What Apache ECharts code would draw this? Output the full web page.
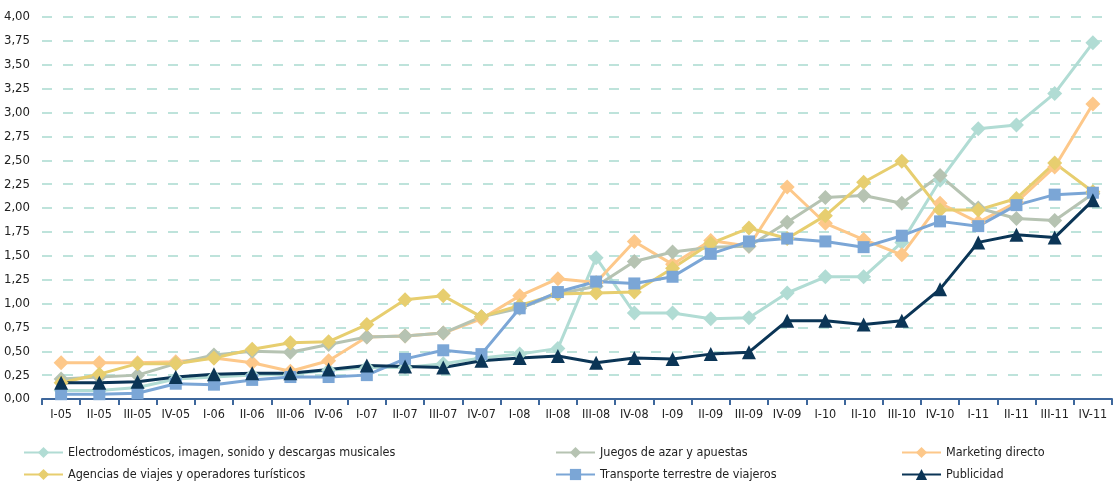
<!DOCTYPE html>
<html>
<head>
<meta charset="utf-8">
<script src="https://cdn.jsdelivr.net/npm/echarts@6/dist/echarts.min.js"></script>
<style>
html,body{margin:0;padding:0;background:#fff;}
#chart{width:1113px;height:486px;}
</style>
</head>
<body>
<div id="chart"></div>
<script>
const categories = ['I-05','II-05','III-05','IV-05','I-06','II-06','III-06','IV-06','I-07','II-07','III-07','IV-07','I-08','II-08','III-08','IV-08','I-09','II-09','III-09','IV-09','I-10','II-10','III-10','IV-10','I-11','II-11','III-11','IV-11'];

const electrodomesticos = [0.09,0.09,0.12,0.21,0.23,0.25,0.26,0.30,0.33,0.33,0.37,0.43,0.47,0.53,1.48,0.90,0.90,0.84,0.85,1.11,1.28,1.28,1.64,2.29,2.83,2.87,3.20,3.73];
const juegos = [0.21,0.23,0.25,0.37,0.46,0.50,0.49,0.57,0.65,0.66,0.69,0.86,0.95,1.10,1.18,1.44,1.54,1.59,1.60,1.85,2.11,2.13,2.05,2.34,2.00,1.89,1.87,2.15];
const marketing = [0.38,0.38,0.38,0.39,0.43,0.38,0.29,0.40,0.65,0.66,0.69,0.84,1.08,1.26,1.22,1.65,1.41,1.66,1.60,2.22,1.84,1.67,1.51,2.05,1.85,2.06,2.43,3.09];
const agencias = [0.17,0.26,0.37,0.37,0.43,0.52,0.59,0.60,0.78,1.04,1.08,0.86,0.98,1.10,1.11,1.12,1.37,1.63,1.79,1.68,1.92,2.27,2.49,1.98,1.98,2.10,2.47,2.17];
const transporte = [0.05,0.05,0.06,0.16,0.15,0.20,0.23,0.23,0.25,0.42,0.51,0.47,0.95,1.12,1.23,1.21,1.28,1.52,1.65,1.68,1.65,1.59,1.71,1.86,1.81,2.03,2.14,2.16];
const publicidad = [0.17,0.17,0.18,0.23,0.26,0.27,0.27,0.31,0.35,0.34,0.33,0.40,0.43,0.45,0.38,0.43,0.42,0.47,0.49,0.82,0.82,0.78,0.82,1.15,1.64,1.72,1.69,2.08];

const yTicks = {min: 0, max: 4, interval: 0.25};

const FONT = "'DejaVu Sans Condensed','Liberation Sans Narrow',sans-serif";

const seriesDefs = [
  {name:'Electrodomésticos, imagen, sonido y descargas musicales', data: electrodomesticos, color:'#b1dcd4', symbol:'diamond', size:15},
  {name:'Marketing directo', data: marketing, color:'#fdc88a', symbol:'diamond', size:15},
  {name:'Juegos de azar y apuestas', data: juegos, color:'#b6c3b2', symbol:'diamond', size:15},
  {name:'Agencias de viajes y operadores turísticos', data: agencias, color:'#e7ce6f', symbol:'diamond', size:15},
  {name:'Transporte terrestre de viajeros', data: transporte, color:'#7ba6d6', symbol:'rect', size:12},
  {name:'Publicidad', data: publicidad, color:'#0b3556', symbol:'triangle', size:14}
];

const legendPos = [
  {name:'Electrodomésticos, imagen, sonido y descargas musicales', left:23, top:446},
  {name:'Juegos de azar y apuestas', left:555, top:446},
  {name:'Marketing directo', left:901, top:446},
  {name:'Agencias de viajes y operadores turísticos', left:23, top:468},
  {name:'Transporte terrestre de viajeros', left:555, top:468},
  {name:'Publicidad', left:901, top:468}
];

const chart = echarts.init(document.getElementById('chart'), null, {renderer:'canvas'});

chart.setOption({
  animation: false,
  backgroundColor: '#ffffff',
  textStyle: {fontFamily: FONT},
  grid: {left: 42, right: 1, top: 17, bottom: 87, containLabel: false},
  legend: legendPos.map(p => ({
    data: [p.name],
    left: p.left,
    top: p.top,
    orient: 'horizontal',
    itemWidth: 39,
    itemHeight: 14,
    padding: 0,
    selectedMode: false,
    textStyle: {fontFamily: FONT, fontSize: 12.5, color: '#222'}
  })),
  xAxis: {
    type: 'category',
    data: categories,
    boundaryGap: true,
    axisLine: {lineStyle: {color: '#3e679c', width: 2}},
    axisTick: {show: true, length: 6, lineStyle: {color: '#3e679c', width: 2}},
    axisLabel: {fontFamily: FONT, fontSize: 12.5, color: '#222', margin: 9, interval: 0}
  },
  yAxis: {
    type: 'value',
    min: yTicks.min,
    max: yTicks.max,
    interval: yTicks.interval,
    axisLine: {show: false},
    axisTick: {show: false},
    axisLabel: {
      fontFamily: FONT, fontSize: 13, color: '#222', margin: 12,
      formatter: v => v.toFixed(2).replace('.', ',')
    },
    splitLine: {lineStyle: {color: '#a9dacf', width: 1.5, type: [10, 11]}}
  },
  series: seriesDefs.map(s => ({
    name: s.name,
    type: 'line',
    data: s.data,
    symbol: s.symbol,
    symbolSize: s.size,
    showAllSymbol: true,
    lineStyle: {color: s.color, width: 3},
    itemStyle: {color: s.color, borderWidth: 0},
    emphasis: {disabled: true}
  }))
});
</script>
</body>
</html>
